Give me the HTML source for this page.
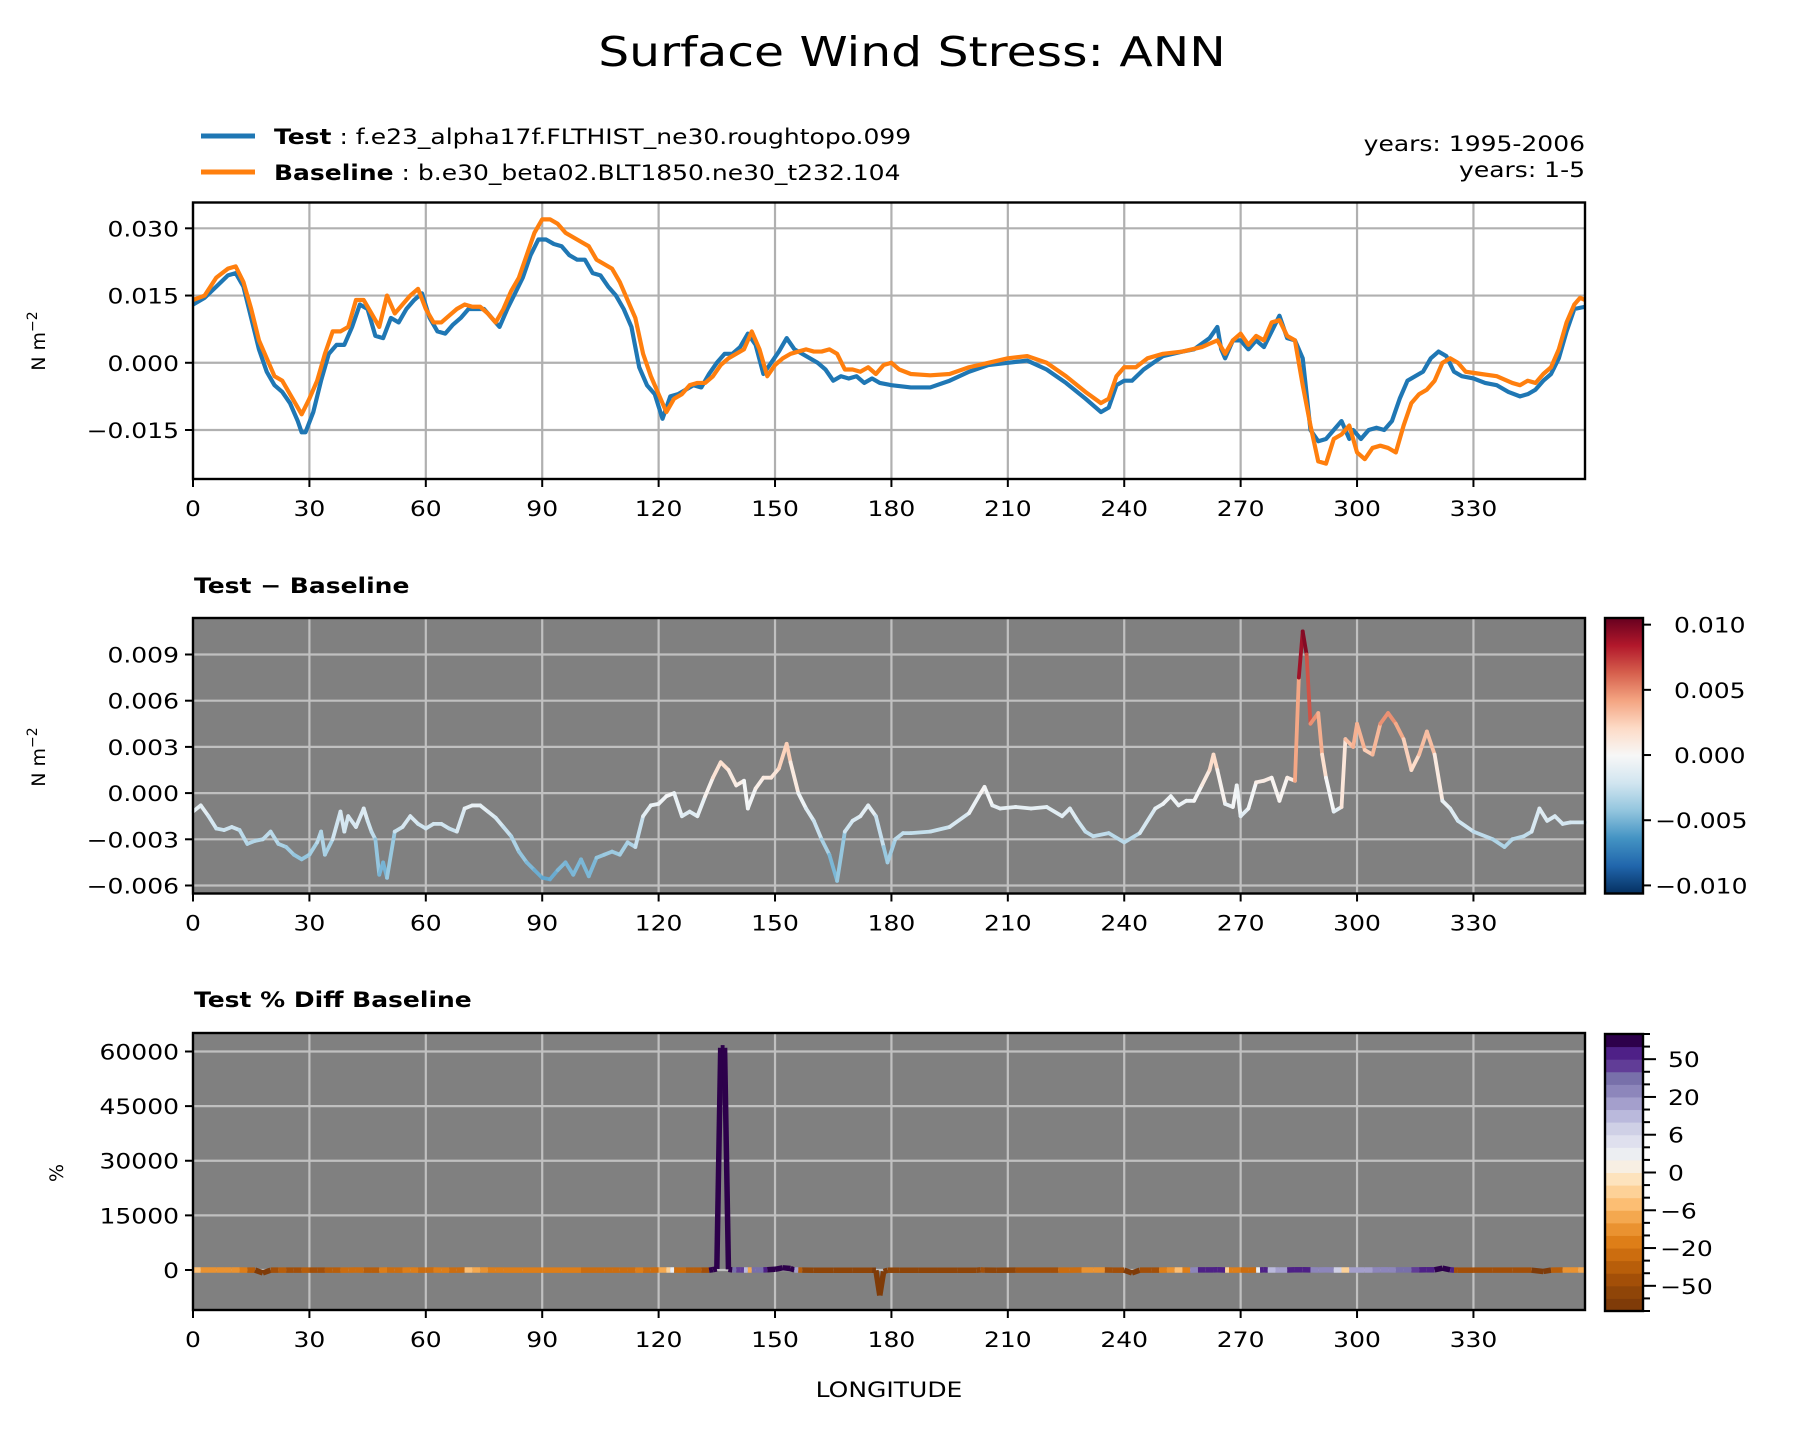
<!DOCTYPE html>
<html><head><meta charset="utf-8">
<style>
html,body{margin:0;padding:0;background:#fff;}
svg{display:block;font-family:"DejaVu Sans","Liberation Sans",sans-serif;}
</style></head>
<body>
<svg id="fig" width="1794" height="1433" viewBox="0 0 1794 1433" xmlns="http://www.w3.org/2000/svg">
<text x="912" y="66" font-size="41" text-anchor="middle">Surface Wind Stress: ANN</text>
<g>
 <line x1="201" y1="136" x2="255" y2="136" stroke="#1f77b4" stroke-width="5"/>
 <text x="274" y="144" font-size="21"><tspan font-weight="bold">Test</tspan> : f.e23_alpha17f.FLTHIST_ne30.roughtopo.099</text>
 <line x1="201" y1="172" x2="255" y2="172" stroke="#ff7f0e" stroke-width="5"/>
 <text x="274" y="180" font-size="21"><tspan font-weight="bold">Baseline</tspan> : b.e30_beta02.BLT1850.ne30_t232.104</text>
</g>
<text x="1585" y="151" font-size="21" text-anchor="end">years: 1995-2006</text>
<text x="1585" y="177" font-size="21" text-anchor="end">years: 1-5</text>
<text x="194" y="593" font-size="21" font-weight="bold">Test − Baseline</text>
<text x="194" y="1007" font-size="21" font-weight="bold">Test % Diff Baseline</text>
<text x="889" y="1397" font-size="21" text-anchor="middle">LONGITUDE</text>
</svg>
<script>
// ---- data (stress values in 1e-3 N m^-2) ----
const testLon=[0,3,6,9,11,13,15,17,19,21,23,25,27,28,29,31,33,35,37,39,41,43,45,47,49,51,53,55,57,59,61,63,65,67,69,71,73,75,77,79,81,83,85,87,89,91,93,95,97,99,101,103,105,107,109,111,113,115,117,119,121,123,125,127,129,131,133,135,137,139,141,143,145,147,149,151,153,155,157,159,161,163,165,167,169,171,173,175,177,180,185,190,195,200,205,210,215,220,225,230,234,236,238,240,242,245,250,255,258,262,264,265,266,268,270,272,274,276,278,280,282,284,286,288,290,292,294,296,298,299,301,303,305,307,309,311,313,315,317,319,321,323,325,327,330,333,336,339,342,344,346,348,350,352,354,356,358.75];
const testVal=[13,14.5,17,19.5,20,17,10,3,-2,-5,-6.5,-9,-13,-15.5,-15.5,-11,-4,2,4,4,8,13,12,6,5.5,10,9,12,14,15.5,10,7,6.5,8.5,10,12,12,12,10,8,12,15.5,19,24,27.5,27.5,26.5,26,24,23,23,20,19.5,17,15,12,8,-1,-5,-7,-12.5,-7.5,-7,-6,-5,-5.5,-2.5,0,2,2,3.5,6.5,4,-2.5,0,2.5,5.5,3,2,1,0,-1.5,-4,-3,-3.5,-3,-4.5,-3.5,-4.5,-5,-5.5,-5.5,-4,-2,-0.5,0,0.5,-1.5,-4.5,-8,-11,-10,-5,-4,-4,-1.5,1.5,2.5,3,5.5,8,3,1,5,5,3,5,3.5,7,10.5,5.5,5,1,-15,-17.5,-17,-15,-13,-17,-15,-17,-15,-14.5,-15,-13,-8,-4,-3,-2,1,2.5,1.5,-2,-3,-3.5,-4.5,-5,-6.5,-7.5,-7,-6,-4,-2.5,1,7,12,12.5];
const baseLon=[0,3,6,9,11,13,15,17,19,21,23,25,27,28,30,32,34,36,38,40,42,44,46,48,50,52,54,56,58,60,62,64,66,68,70,72,74,76,78,80,82,84,86,88,90,92,94,96,98,100,102,104,106,108,110,112,114,116,118,120,122,124,126,128,130,132,134,136,138,140,142,144,146,148,150,152,154,156,158,160,162,164,166,168,170,172,174,176,178,180,182,185,190,195,200,205,210,215,220,225,230,234,236,238,240,243,246,250,255,260,264,266,268,270,272,274,276,278,280,282,284,286,288,290,292,294,296,298,300,302,304,306,308,310,312,314,316,318,320,322,324,326,328,332,336,340,342,344,346,348,350,352,354,356,357.5,358.75];
const baseVal=[14,15,19,21,21.5,18,12,5,1,-3,-4,-7,-10,-11.5,-8,-4,2,7,7,8,14,14,11,8,15,11,13,15,16.5,12,9,9,10.5,12,13,12.5,12.5,11,9,12,16,19,24,29,32,32,31,29,28,27,26,23,22,21,18,14,10,2,-3,-7,-11,-8,-7,-5,-4.5,-4.5,-3,-0.5,1,2,3,7,3,-3,-0.5,1,2,2.5,3,2.5,2.5,3,2,-1.5,-1.5,-2,-1,-2.5,-0.5,0,-1.5,-2.5,-2.8,-2.5,-1,0,1,1.5,0,-3,-6.5,-9,-8,-3,-1,-1,1,2,2.5,3.5,5,2,5,6.5,4,6,5,9,9.5,6,5,-5,-14,-22,-22.5,-17,-16,-14,-20,-21.5,-19,-18.5,-19,-20,-14,-9,-7,-6,-4,0,1,0,-2,-2.5,-3,-4.5,-5,-4,-4.5,-2.5,-1,3,9,13,14.5,14];
const diffLon=[0,2,4,6,8,10,12,14,16,18,20,22,24,26,28,30,32,33,34,36,38,39,40,42,44,45,46,47,48,49,50,52,54,56,58,60,62,64,66,68,70,72,74,76,78,80,82,84,86,88,90,92,94,96,98,100,102,104,106,108,110,112,114,116,118,120,122,124,126,128,130,132,134,136,138,140,142,143,145,147,149,151,153,154,156,158,160,162,164,166,168,170,172,174,176,178,179,181,183,185,190,195,200,203,204,206,208,212,216,220,224,226,228,230,232,236,240,244,248,250,252,254,256,258,260,262,263,264,266,268,269,270,272,274,276,278,280,282,284,285,286,287,288,290,291,292,294,296,297,299,300,302,304,306,308,310,312,314,316,318,320,322,324,326,330,335,338,340,343,345,347,349,351,353,355,358.75];
const diffVal=[-1.2,-0.8,-1.5,-2.3,-2.4,-2.2,-2.4,-3.3,-3.1,-3.0,-2.5,-3.3,-3.5,-4.0,-4.3,-4.0,-3.2,-2.5,-4.0,-3.0,-1.2,-2.5,-1.5,-2.2,-1.0,-1.8,-2.5,-3.0,-5.3,-4.5,-5.5,-2.5,-2.2,-1.5,-2.0,-2.3,-2.0,-2.0,-2.3,-2.5,-1.0,-0.8,-0.8,-1.2,-1.6,-2.2,-2.8,-3.8,-4.5,-5.0,-5.5,-5.6,-5.0,-4.5,-5.3,-4.3,-5.4,-4.2,-4.0,-3.8,-4.0,-3.2,-3.5,-1.5,-0.8,-0.7,-0.2,0,-1.5,-1.2,-1.5,-0.2,1,2,1.5,0.5,0.8,-1,0.3,1.0,1.0,1.6,3.2,2,0,-1,-1.8,-3.0,-4.0,-5.7,-2.5,-1.8,-1.5,-0.8,-1.5,-3.5,-4.5,-3.0,-2.6,-2.6,-2.5,-2.2,-1.3,0,0.4,-0.8,-1.0,-0.9,-1.0,-0.9,-1.5,-1.0,-1.8,-2.5,-2.8,-2.6,-3.2,-2.6,-1.0,-0.7,-0.2,-0.8,-0.5,-0.5,0.5,1.5,2.5,1.5,-0.7,-0.9,0.5,-1.5,-1.0,0.7,0.8,1.0,-0.5,1.0,0.8,7.5,10.5,9.0,4.5,5.2,2.5,1.0,-1.2,-0.9,3.5,3.0,4.5,2.8,2.5,4.5,5.2,4.5,3.5,1.5,2.5,4.0,2.5,-0.5,-1.0,-1.8,-2.5,-3.0,-3.5,-3.0,-2.8,-2.5,-1.0,-1.8,-1.5,-2.0,-1.9,-1.9];
// percent difference (%)
const pctLon=[0,2,4,6,8,10,12,14,16,18,20,22,24,26,28,30,32,34,36,38,40,42,44,46,48,50,52,54,56,58,60,62,64,66,68,70,72,74,76,78,80,85,90,95,100,104,106,108,110,112,114,116,118,120,122,123,124,125,127,129,131,133,134,135,136,137,138,139,140,141,142,143,144,145,146,147,148,150,152,154,155,156,157,160,165,170,175,176,177,178,179,182,187,192,197,202,203,204,207,212,217,221,223,226,229,232,235,237,240,242,244,247,249,251,253,255,257,259,261,263,264,266,267,268,270,272,274,275,276,277,279,280,282,284,286,288,290,292,294,296,298,300,302,304,306,308,310,312,314,316,318,320,322,324,325,326,330,335,340,345,348,350,353,355,357,358.75];
const pctVal=[-4,-6,-12,-8,-15,-10,-15,-18,-40,-800,-50,-40,-35,-45,-30,-40,-45,-35,-40,-20,-25,-3,-25,-40,-20,-15,-25,-18,-5,-20,-25,-15,-20,-18,-25,-6,-5,-8,-15,-18,-18,-18,-18,-18,-20,-25,-18,-30,-20,-25,-18,-20,-30,-8,-4,-1,2,-25,-30,-40,-35,-50,100,300,61000,61000,200,6,30,40,10,-8,-6,30,15,35,60,200,600,400,10,15,-40,-60,-60,-60,-60,-80,-7000,-400,-60,-60,-60,-60,-60,-60,40,-50,-55,-50,-50,-50,-20,-25,-15,-12,-15,-50,-50,-800,-50,-45,-20,-15,-3,-6,-20,25,50,30,60,-3,-1,-20,-15,-30,1,2,60,10,6,15,10,60,60,20,15,25,8,-4,-3,15,10,15,20,25,15,30,35,40,60,60,500,60,-20,-50,-50,-50,-50,-50,-400,-40,-15,-12,-8,-10];
// ticks
const xTicks=[0,30,60,90,120,150,180,210,240,270,300,330];
const p1Ticks=[30,15,0,-15];
const p1TickLabels=["0.030","0.015","0.000","\u22120.015"];
const p2Ticks=[9,6,3,0,-3,-6];
const p2TickLabels=["0.009","0.006","0.003","0.000","\u22120.003","\u22120.006"];
const p3Ticks=[60000,45000,30000,15000,0];
const p3TickLabels=["60000","45000","30000","15000","0"];
const cb2Ticks=[10,5,0,-5,-10];
const cb2TickLabels=["0.010","0.005","0.000","\u22120.005","\u22120.010"];
const pctLevels=[-100,-75,-50,-40,-30,-20,-15,-10,-6,-4,-2,0,2,4,6,10,15,20,30,40,50,75,100];
const pctLabelLevels=[-50,-20,-6,0,6,20,50];
const pctLabelText=["\u221250","\u221220","\u22126","0","6","20","50"];

// ---- styles/geometry ----
const NS="http://www.w3.org/2000/svg";
const svg=document.getElementById('fig');
const X0=193,X1=1585,XMAX=358.75;
const P1={top:202.5,bot:479,ymin:-25.93,ymax:35.76,bg:"#ffffff",grid:"#b0b0b0"};
const P2={top:618,bot:893.5,ymin:-6.52,ymax:11.37,bg:"#808080",grid:"#c0c0c0"};
const P3={top:1033,bot:1310,ymin:-10984,ymax:65080,bg:"#808080",grid:"#c0c0c0"};
const bandColors=["#7f3b08","#8f4508","#a34f08","#b85e0a","#cc6d0f","#de7e18","#ea9230","#f4a84f","#fcbe73","#fdd197","#fde3bd","#f7efe3","#eceef2","#dfe0ee","#cfd0e6","#bab9dc","#a49fcc","#8d86bb","#7870aa","#613d97","#4e2087","#2d004b"];
const rdbu=["#053061","#2166ac","#4393c3","#92c5de","#d1e5f0","#f7f7f7","#fddbc7","#f4a582","#d6604d","#b2182b","#67001f"];
function xs(l){return X0+(l/XMAX)*(X1-X0);}
function ys(P,v){return P.bot-(v-P.ymin)/(P.ymax-P.ymin)*(P.bot-P.top);}
function el(tag,attrs,parent){const e=document.createElementNS(NS,tag);for(const k in attrs)e.setAttribute(k,attrs[k]);(parent||svg).appendChild(e);return e;}
function hex(c){return[parseInt(c.substr(1,2),16),parseInt(c.substr(3,2),16),parseInt(c.substr(5,2),16)];}
function rdbuColor(t){t=Math.max(0,Math.min(1,t));const p=t*10,i=Math.min(9,Math.floor(p)),f=p-i;const a=hex(rdbu[i]),b=hex(rdbu[i+1]);return "rgb("+a.map((v,k)=>Math.round(v+(b[k]-v)*f)).join(",")+")";}
function pctColor(v){for(let i=0;i<bandColors.length;i++){if(v<pctLevels[i+1])return bandColors[i];}return bandColors[bandColors.length-1];}

function axesFrame(P,name,ticks,labels){
  const g=el('g',{});
  
  
  const bg=el('rect',{x:X0,y:P.top,width:X1-X0,height:P.bot-P.top,fill:P.bg},g);
  
  
  xTicks.forEach(t=>{
    const gl=el('line',{x1:xs(t),x2:xs(t),y1:P.top,y2:P.bot,stroke:P.grid,'stroke-width':2.2},g);
    
    
    const tk=el('line',{x1:xs(t),x2:xs(t),y1:P.bot,y2:P.bot+8,stroke:'#000','stroke-width':2},g);
    
    
    const tl=el('text',{x:xs(t),y:P.bot+37,'font-size':21,'text-anchor':'middle'},g);
    tl.textContent=String(t);
    
    
  });
  ticks.forEach((t,i)=>{
    const y=ys(P,t);
    const gl=el('line',{x1:X0,x2:X1,y1:y,y2:y,stroke:P.grid,'stroke-width':2.2},g);
    
    
    const tk=el('line',{x1:X0-8,x2:X0,y1:y,y2:y,stroke:'#000','stroke-width':2},g);
    
    
    const tl=el('text',{x:X0-14,y:y+8,'font-size':21,'text-anchor':'end'},g);
    tl.textContent=labels[i];
    
    
  });
  return g;
}
function spine(P,name){
  const r=el('rect',{x:X0,y:P.top,width:X1-X0,height:P.bot-P.top,fill:'none',stroke:'#000','stroke-width':2.4});
  
  
}
function ylabel(x,y,txt,sup,name){
  const t=el('text',{x:x,y:y,'font-size':19,'text-anchor':'middle',transform:'rotate(-90 '+x+' '+y+') scale(1,1)'});
  t.textContent=txt;
  if(sup){const s=el('tspan',{dy:-8,'font-size':14},t);s.textContent=sup;}
  
  
}

// Panel 1
axesFrame(P1,'mean-panel',p1Ticks,p1TickLabels);
const clip=el('clipPath',{id:'c1'});el('rect',{x:X0,y:P1.top,width:X1-X0,height:P1.bot-P1.top},clip);
const tl=el('polyline',{points:testLon.map((l,i)=>xs(l)+','+ys(P1,testVal[i])).join(' '),fill:'none',stroke:'#1f77b4','stroke-width':4.2,'stroke-linejoin':'round','clip-path':'url(#c1)'});


const bl=el('polyline',{points:baseLon.map((l,i)=>xs(l)+','+ys(P1,baseVal[i])).join(' '),fill:'none',stroke:'#ff7f0e','stroke-width':4.2,'stroke-linejoin':'round','clip-path':'url(#c1)'});


spine(P1,'mean-panel');
ylabel(45,341,'N m','\u22122','mean-y-axis-title');

// Panel 2
axesFrame(P2,'diff-panel',p2Ticks,p2TickLabels);
const dg=el('g',{'stroke-linecap':'round'});


for(let i=0;i<diffLon.length-1;i++){
  const v=(diffVal[i]+diffVal[i+1])/2;
  const s=el('line',{x1:xs(diffLon[i]),y1:ys(P2,diffVal[i]),x2:xs(diffLon[i+1]),y2:ys(P2,diffVal[i+1]),stroke:rdbuColor((v+10.6)/21.2),'stroke-width':3.8},dg);
  
  
}
spine(P2,'diff-panel');
ylabel(45,757,'N m','\u22122','diff-y-axis-title');

// Colorbar 2
const CBX=1605,CBW=38;
const grad=el('linearGradient',{id:'gr',x1:0,y1:1,x2:0,y2:0});
rdbu.forEach((c,i)=>el('stop',{offset:(i*10)+'%','stop-color':c},grad));
const cb2=el('rect',{x:CBX,y:P2.top,width:CBW,height:P2.bot-P2.top,fill:'url(#gr)',stroke:'#000','stroke-width':2.4});


cb2Ticks.forEach((t,i)=>{
  const y=P2.bot-(t+10.62)/(21.13)*(P2.bot-P2.top);
  const tk=el('line',{x1:CBX+CBW,x2:CBX+CBW+8,y1:y,y2:y,stroke:'#000','stroke-width':2});
  
  
  const tx=el('text',{x:CBX+CBW+(t<0?12:31),y:y+8,'font-size':21});
  tx.textContent=cb2TickLabels[i];
  
  
});

// Panel 3
axesFrame(P3,'pct-panel',p3Ticks,p3TickLabels);
const pg=el('g',{'stroke-linecap':'butt','stroke-linejoin':'round'});


for(let i=0;i<pctLon.length-1;i++){
  const v=(Math.abs(pctVal[i])>Math.abs(pctVal[i+1]))?pctVal[i]:pctVal[i+1];
  const s=el('line',{x1:xs(pctLon[i]),y1:ys(P3,pctVal[i]),x2:xs(pctLon[i+1]),y2:ys(P3,pctVal[i+1]),stroke:pctColor(v),'stroke-width':5.5},pg);
  
  
}
spine(P3,'pct-panel');
ylabel(63,1173,'%',null,'pct-y-axis-title');

// Colorbar 3
const CB3T=1034,CB3B=1311,nb=bandColors.length,bh=(CB3B-CB3T)/nb;
const cb3=el('g',{});


bandColors.forEach((c,i)=>{
  const r=el('rect',{x:CBX,y:CB3B-(i+1)*bh,width:CBW,height:bh+0.5,fill:c},cb3);
  
  
});
el('rect',{x:CBX,y:CB3T,width:CBW,height:CB3B-CB3T,fill:'none',stroke:'#000','stroke-width':2.4},cb3);
pctLevels.forEach((lv,i)=>{
  const y=CB3B-i*bh;
  const lab=pctLabelLevels.indexOf(lv);
  const tk=el('line',{x1:CBX+CBW,x2:CBX+CBW+(lab>=0?13:7),y1:y,y2:y,stroke:'#000','stroke-width':2},cb3);
  
  
  if(lab>=0){
    const tx=el('text',{x:CBX+CBW+(lv<0?17:25),y:y+8,'font-size':21},cb3);
    tx.textContent=pctLabelText[lab];
    
    
  }
});

// horizontal stretch of text to match reference aspect
const SX=1.19;
svg.querySelectorAll('text').forEach(t=>{
  if(t.hasAttribute('transform'))return;
  const x=parseFloat(t.getAttribute('x')),y=parseFloat(t.getAttribute('y'));
  t.setAttribute('transform','translate('+x+' '+y+') scale('+SX+' 1) translate('+(-x)+' '+(-y)+')');
});
</script>
</body></html>
